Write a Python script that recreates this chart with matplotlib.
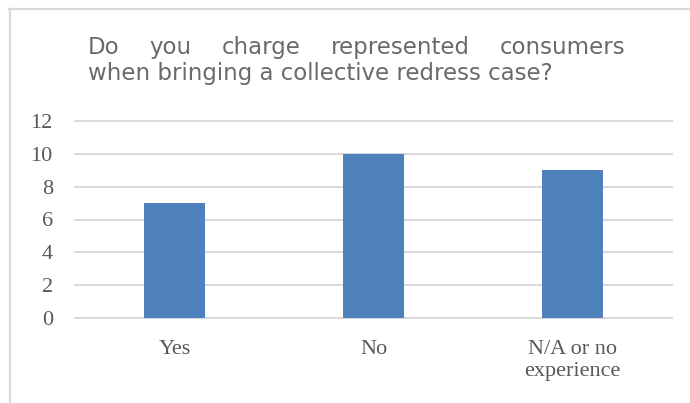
import matplotlib.pyplot as plt
from matplotlib.lines import Line2D

categories = ['Yes', 'No', 'N/A or no\nexperience']
counts = [7, 10, 9]
y_ticks = [0, 2, 4, 6, 8, 10, 12]
title_lines = ['Do you charge represented consumers',
               'when bringing a collective redress case?']

W, H = 690, 403
fig = plt.figure(figsize=(W / 100, H / 100), dpi=100)

# chart frame (only top and left edges fall inside the image)
fig.add_artist(Line2D([9 / W, 1], [1 - 8.5 / H] * 2, color='#d9d9d9', lw=1.6))
fig.add_artist(Line2D([9.5 / W] * 2, [0, 1 - 8.5 / H], color='#d9d9d9', lw=1.6))

ax = fig.add_axes([75 / W, 1 - 318 / H, (672 - 75) / W, (318 - 121) / H])
x = list(range(len(categories)))
ax.bar(x, counts, width=0.31, color='#4f81bd', zorder=3)
ax.set_xlim(-0.5, len(categories) - 0.5)
ax.set_ylim(0, 12)
ax.set_yticks(y_ticks)
ax.set_xticks(x)
lab = dict(fontfamily='Liberation Serif', fontsize=16, color='#595959')
ax.set_xticklabels(categories, linespacing=1.2, **lab)
ax.set_yticklabels([str(t) for t in y_ticks], **lab)
ax.tick_params(length=0)
ax.tick_params(axis='y', pad=16)
ax.tick_params(axis='x', pad=16)
ax.grid(axis='y', color='#d9d9d9', lw=1.4, zorder=0)
for gl in ax.get_ygridlines():
    gl.set_clip_on(False)
for s in ax.spines.values():
    s.set_visible(False)

# two-line title, first line justified between fixed edges
left, right = 88 / W, 625 / W
tkw = dict(fontsize=16.5, color='#6a6a6a', family='DejaVu Sans', va='baseline')
fig.canvas.draw()
r = fig.canvas.get_renderer()
words = title_lines[0].split()
objs = [fig.text(0, 1 - 54 / H, w, **tkw) for w in words]
widths = [o.get_window_extent(r).width / W for o in objs]
gap = (right - left - sum(widths)) / (len(words) - 1)
pos = left
for o, w in zip(objs, widths):
    o.set_x(pos)
    pos += w + gap
fig.text(left, 1 - 80 / H, title_lines[1], **tkw)

fig.savefig('out.png', dpi=100)
